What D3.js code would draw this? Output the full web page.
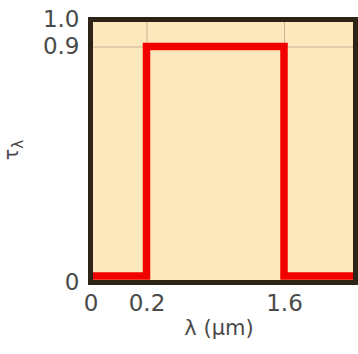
<!DOCTYPE html>
<html>
<head>
<meta charset="utf-8">
<script src="https://cdn.jsdelivr.net/npm/d3@7"></script>
<style>
  body { margin: 0; background: #fff; }
  svg text { font-family: "DejaVu Sans", sans-serif; fill: #4a4a4a; }
</style>
</head>
<body>
<svg class="svg" width="358" height="354"></svg>
<script>
// data
let lambdaPts = [0, 0.2, 1.6, 2.0];
let tauPts = [0.025, 0.9, 0.025, 0.025];
let xTicks = [0, 0.2, 1.6];
let yTicks = [0, 0.9, 1.0];
let xTickLabels = ['0', '0.2', '1.6'];
let yTickLabels = ['0', '0.9', '1.0'];

let frame = {left: 90.5, right: 355.5, top: 19.5, bottom: 282.5};

// schematic axes, not to scale
let x = d3.scaleLinear().domain([0, 0.2, 1.6, 2.0]).range([frame.left, 146.5, 284, frame.right]);
let y = d3.scaleLinear().domain([0, 0.9, 1.0]).range([frame.bottom, 46.5, frame.top]);

let svg = d3.select('.svg');

svg.append('rect')
    .attr('x', frame.left)
    .attr('y', frame.top)
    .attr('width', frame.right - frame.left)
    .attr('height', frame.bottom - frame.top)
    .attr('fill', '#fde8be');

// grid
svg.append('g')
    .attr('transform', 'translate(0,' + frame.bottom + ')')
    .call(d3.axisBottom(x).tickValues(xTicks.slice(1)).tickSize(-(frame.bottom - frame.top)).tickFormat(''))
    .call(g => g.select('.domain').remove())
    .selectAll('line').attr('stroke', '#c6b596').attr('stroke-width', 1);

svg.append('g')
    .attr('transform', 'translate(' + frame.left + ',0)')
    .call(d3.axisLeft(y).tickValues(yTicks.slice(1)).tickSize(-(frame.right - frame.left)).tickFormat(''))
    .call(g => g.select('.domain').remove())
    .selectAll('line').attr('stroke', '#c6b596').attr('stroke-width', 1);

// transmission curve
let line = d3.line()
    .x(function (d, i) { return x(lambdaPts[i]); })
    .y(function (d, i) { return y(tauPts[i]); })
    .curve(d3.curveStepAfter);

svg.append('path')
    .datum(lambdaPts)
    .attr('d', line)
    .attr('fill', 'none')
    .attr('stroke', '#f20000')
    .attr('stroke-width', 7.5);

// frame
svg.append('rect')
    .attr('x', frame.left)
    .attr('y', frame.top)
    .attr('width', frame.right - frame.left)
    .attr('height', frame.bottom - frame.top)
    .attr('fill', 'none')
    .attr('stroke', '#2e2317')
    .attr('stroke-width', 5);

// tick labels
let xAxis = svg.append('g')
    .attr('transform', 'translate(0,' + frame.bottom + ')')
    .call(d3.axisBottom(x).tickValues(xTicks).tickSize(0).tickPadding(12)
        .tickFormat(function (d, i) { return xTickLabels[i]; }));
xAxis.select('.domain').remove();
xAxis.selectAll('text').attr('font-size', '23px').attr('fill', '#4a4a4a');

let yAxis = svg.append('g')
    .attr('transform', 'translate(' + frame.left + ',0)')
    .call(d3.axisLeft(y).tickValues(yTicks).tickSize(0).tickPadding(11)
        .tickFormat(function (d, i) { return yTickLabels[i]; }));
yAxis.select('.domain').remove();
yAxis.selectAll('text').attr('font-size', '23px').attr('fill', '#4a4a4a');

svg.selectAll('.tick text').style('font-family', '"DejaVu Sans", sans-serif');

// axis titles
svg.append('text')
    .attr('x', 219)
    .attr('y', 335)
    .attr('text-anchor', 'middle')
    .attr('font-size', '21px')
    .text('λ (μm)');

let yTitle = svg.append('text')
    .attr('transform', 'translate(18,150) rotate(-90)')
    .attr('text-anchor', 'middle')
    .attr('font-size', '19px');
yTitle.append('tspan').text('τ');
yTitle.append('tspan').attr('font-size', '15px').attr('dy', 5).text('λ');
</script>
</body>
</html>
